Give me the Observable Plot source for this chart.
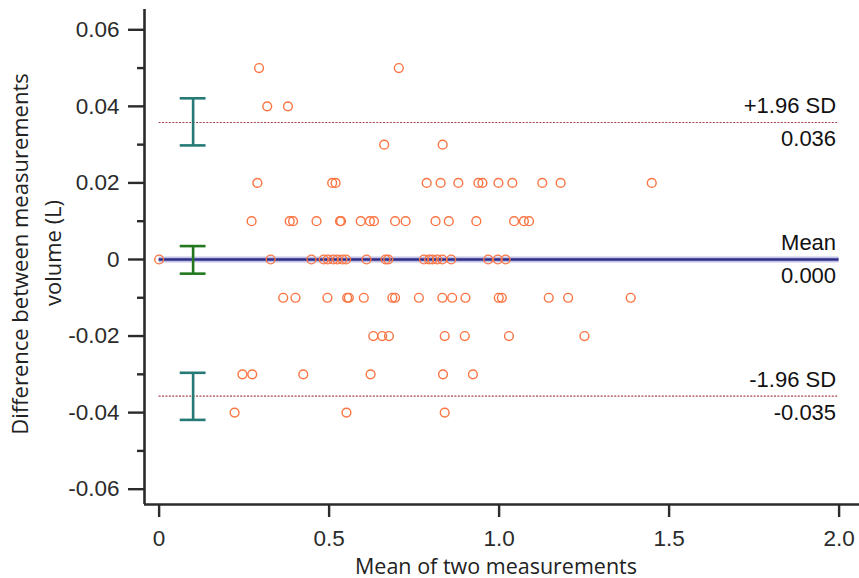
<!DOCTYPE html>
<html><head><meta charset="utf-8">
<script src="https://cdn.jsdelivr.net/npm/d3@7"></script>
<script src="https://cdn.jsdelivr.net/npm/@observablehq/plot@0.6"></script>
<style>
body{margin:0;background:#fff}
#chart svg{display:block}
</style>
</head><body><div id="chart"></div>
<script>
// Difference levels (y) and the means (x) of the points found at each level
const diffLevels = [0.05, 0.04, 0.03, 0.02, 0.01, 0, -0.01, -0.02, -0.03, -0.04];
const meansP05 = [0.294, 0.705];
const meansP04 = [0.318, 0.379];
const meansP03 = [0.662, 0.834];
const meansP02 = [0.289, 0.509, 0.519, 0.787, 0.828, 0.880, 0.939, 0.951, 0.998, 1.039, 1.127, 1.181, 1.449];
const meansP01 = [0.272, 0.384, 0.394, 0.463, 0.532, 0.535, 0.593, 0.620, 0.632, 0.694, 0.725, 0.813, 0.852, 0.933, 1.044, 1.073, 1.088];
const meansZero = [0.0, 0.328, 0.448, 0.484, 0.496, 0.512, 0.524, 0.539, 0.550, 0.610, 0.666, 0.674, 0.779, 0.794, 0.804, 0.818, 0.833, 0.859, 0.968, 0.996, 1.019];
const meansM01 = [0.365, 0.401, 0.495, 0.553, 0.558, 0.602, 0.686, 0.694, 0.764, 0.833, 0.862, 0.901, 0.999, 1.008, 1.146, 1.203, 1.387];
const meansM02 = [0.630, 0.656, 0.676, 0.840, 0.899, 1.029, 1.251];
const meansM03 = [0.245, 0.274, 0.424, 0.622, 0.835, 0.923];
const meansM04 = [0.222, 0.551, 0.840];
const meansByLevel = [meansP05, meansP04, meansP03, meansP02, meansP01, meansZero, meansM01, meansM02, meansM03, meansM04];

// Limits of agreement
const limitNames = ["+1.96 SD", "Mean", "-1.96 SD"];
const limitValues = [0.0358, 0.0, -0.0357];
const limitLabels = ["0.036", "0.000", "-0.035"];
// Confidence intervals of the limits
const ciX = 0.1;
const ciLow = [0.0298, -0.0037, -0.0419];
const ciHigh = [0.0421, 0.0035, -0.0296];
const ciColors = ["#267a76", "#23781f", "#267a76"];

// Axes
const xDomain = [-0.043, 2.06];
const yDomain = [-0.064, 0.0653];
const xTicks = [0, 0.5, 1.0, 1.5, 2.0];
const yMajorTicks = [-0.06, -0.04, -0.02, 0, 0.02, 0.04, 0.06];
const yMinorTicks = [-0.05, -0.03, -0.01, 0.01, 0.03, 0.05];
const xTitle = "Mean of two measurements";
const yTitleLines = ["Difference between measurements", "volume (L)"];

const points = meansByLevel.flatMap((ms, i) => ms.map(m => ({mean: m, diff: diffLevels[i]})));
const limits = limitNames.map((n, i) => ({name: n, value: limitValues[i], label: limitLabels[i]}));
const cis = ciLow.map((lo, i) => ({lo, hi: ciHigh[i], color: ciColors[i]}));
const capHalf = 0.038;
const sdLimits = limits.filter(d => d.name !== "Mean");
const meanLimit = limits.filter(d => d.name === "Mean");

const axisColor = "#2b2b2b";
const plot = Plot.plot({
  width: 859,
  height: 578,
  marginLeft: 144,
  marginRight: 0,
  marginTop: 9,
  marginBottom: 74,
  style: {fontFamily: "'Liberation Sans', Arial, sans-serif", background: "#fff", color: "#222"},
  x: {domain: xDomain},
  y: {domain: yDomain},
  marks: [
    // limit lines
    Plot.ruleY(sdLimits, {y: "value", x1: 0, x2: 2, stroke: "#a8434d", strokeWidth: 1.1, strokeDasharray: "2,1.4"}),
    Plot.ruleY(meanLimit, {y: "value", x1: 0, x2: 2, stroke: "#8f8fd0", strokeOpacity: 0.55, strokeWidth: 6}),
    Plot.ruleY(meanLimit, {y: "value", x1: 0, x2: 2, stroke: "#2e2e88", strokeWidth: 2.6}),
    // confidence intervals
    Plot.ruleX(cis, {x: () => ciX, y1: "lo", y2: "hi", stroke: "color", strokeWidth: 2.6}),
    Plot.ruleY(cis, {y: "lo", x1: () => ciX - capHalf, x2: () => ciX + capHalf, stroke: "color", strokeWidth: 2.6}),
    Plot.ruleY(cis, {y: "hi", x1: () => ciX - capHalf, x2: () => ciX + capHalf, stroke: "color", strokeWidth: 2.6}),
    // points
    Plot.dot(points, {x: "mean", y: "diff", r: 4.4, stroke: "#fb7543", strokeWidth: 1.4, fill: "none"}),
    // right labels
    Plot.text(limits, {x: () => 2, y: "value", text: "name", textAnchor: "end", lineAnchor: "bottom", dx: -3, dy: -9, fontSize: 22, fill: "#111"}),
    Plot.text(limits, {x: () => 2, y: "value", text: "label", textAnchor: "end", lineAnchor: "bottom", dx: -3, dy: 24, fontSize: 22, fill: "#111"}),
    // axes
    Plot.axisY(yMinorTicks, {tickSize: 7, tickFormat: () => "", label: null, strokeWidth: 2.4, color: axisColor}),
    Plot.axisY(yMajorTicks, {tickSize: 16, tickPadding: 9, tickFormat: d => d === 0 ? "0" : d.toFixed(2), label: null, fontSize: 22.5, strokeWidth: 2.4, color: axisColor}),
    Plot.axisX(xTicks, {tickSize: 13, tickPadding: 13, tickFormat: d => d === 0 ? "0" : d.toFixed(1), label: null, fontSize: 22.5, strokeWidth: 2.4, color: axisColor}),
    Plot.ruleX([xDomain[0]], {y1: yDomain[0], y2: yDomain[1], stroke: axisColor, strokeWidth: 2.6}),
    Plot.ruleY([yDomain[0]], {x1: xDomain[0], x2: xDomain[1], stroke: axisColor, strokeWidth: 2.6}),
    // titles
    Plot.text([xTitle], {frameAnchor: "bottom", textAnchor: "middle", lineAnchor: "bottom", dx: -6, dy: 69, fontSize: 21.5, fontFamily: "'Open Sans', sans-serif", fill: "#222"}),
    Plot.text([yTitleLines[0]], {frameAnchor: "left", textAnchor: "middle", rotate: -90, lineAnchor: "middle", dx: -124, dy: -3, fontSize: 22, fontFamily: "'Open Sans', sans-serif", fill: "#222"}),
    Plot.text([yTitleLines[1]], {frameAnchor: "left", textAnchor: "middle", rotate: -90, lineAnchor: "middle", dx: -91, dy: -4, fontSize: 22, fontFamily: "'Open Sans', sans-serif", fill: "#222"})
  ]
});
document.getElementById("chart").appendChild(plot);
</script>
</body></html>
